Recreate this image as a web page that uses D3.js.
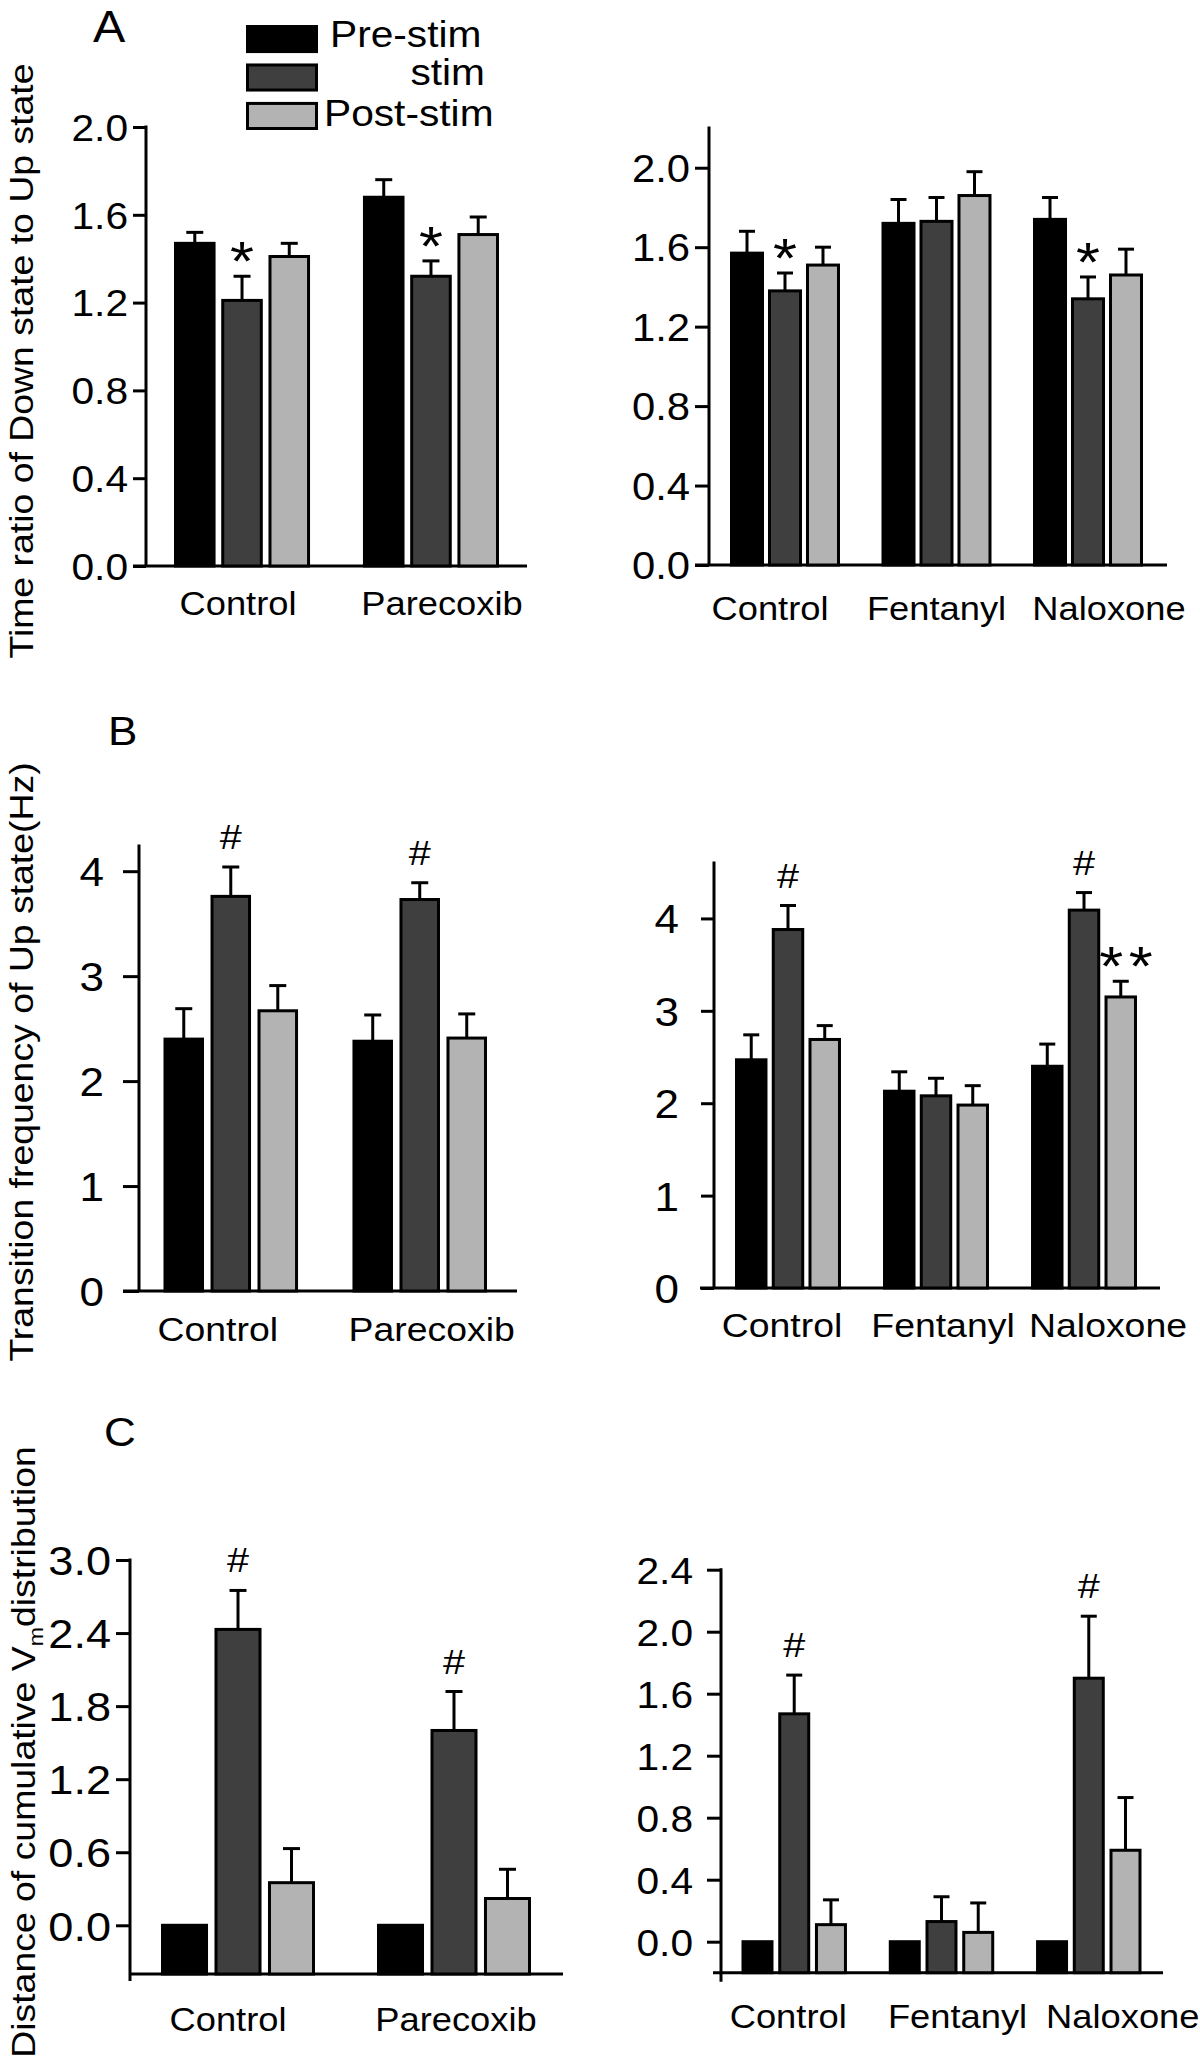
<!DOCTYPE html>
<html>
<head>
<meta charset="utf-8">
<script src="https://cdn.jsdelivr.net/npm/d3@7"></script>
<style>
  body { margin: 0; background: #fff; }
  svg { display: block; font-family: 'Liberation Sans', Arial, sans-serif; }
</style>
</head>
<body>
<div id="chart"></div>
<script>
// ---- data ----
const conditions = ['Pre-stim', 'stim', 'Post-stim']
const groupsPar = ['Control', 'Parecoxib']
const groupsOpi = ['Control', 'Fentanyl', 'Naloxone']

// A: time ratio of Down state to Up state
const ratioParMean = [[1.47, 1.21, 1.41], [1.68, 1.32, 1.51]]
const ratioParSem  = [[0.05, 0.11, 0.06], [0.08, 0.07, 0.08]]
const ratioOpiMean = [[1.57, 1.38, 1.51], [1.72, 1.73, 1.86], [1.74, 1.34, 1.46]]
const ratioOpiSem  = [[0.11, 0.09, 0.09], [0.12, 0.12, 0.12], [0.11, 0.11, 0.13]]
const ratioTicks = [0, 0.4, 0.8, 1.2, 1.6, 2.0]

// B: transition frequency of Up state (Hz)
const freqParMean = [[2.40, 3.76, 2.67], [2.38, 3.73, 2.41]]
const freqParSem  = [[0.29, 0.28, 0.24], [0.25, 0.16, 0.23]]
const freqOpiMean = [[2.47, 3.88, 2.69], [2.13, 2.08, 1.98], [2.40, 4.09, 3.15]]
const freqOpiSem  = [[0.27, 0.26, 0.15], [0.21, 0.19, 0.21], [0.24, 0.19, 0.17]]
const freqTicks = [0, 1, 2, 3, 4]

// C: distance of cumulative Vm distribution
const distParMean = [[0, 2.43, 0.35], [0, 1.60, 0.22]]
const distParSem  = [[0, 0.32, 0.28], [0, 0.32, 0.24]]
const distOpiMean = [[0, 1.47, 0.11], [0, 0.13, 0.06], [0, 1.70, 0.59]]
const distOpiSem  = [[0, 0.25, 0.16], [0, 0.16, 0.19], [0, 0.40, 0.34]]
const distParTicks = [0, 0.6, 1.2, 1.8, 2.4, 3.0]
const distOpiTicks = [0, 0.4, 0.8, 1.2, 1.6, 2.0, 2.4]

// significance marks: [group, condition, symbol]
const marksRatioPar = [['Control', 'stim', '*'], ['Parecoxib', 'stim', '*']]
const marksRatioOpi = [['Control', 'stim', '*'], ['Naloxone', 'stim', '*']]
const marksFreqPar = [['Control', 'stim', '#'], ['Parecoxib', 'stim', '#']]
const marksFreqOpi = [['Control', 'stim', '#'], ['Naloxone', 'stim', '#'], ['Naloxone', 'Post-stim', '**']]
const marksDistPar = [['Control', 'stim', '#'], ['Parecoxib', 'stim', '#']]
const marksDistOpi = [['Control', 'stim', '#'], ['Naloxone', 'stim', '#']]

// ---- style ----
const fills = { 'Pre-stim': '#000000', 'stim': '#3f3f3f', 'Post-stim': '#b3b3b3' }
const SX = 1.1   // the figure's type runs a bit wider than Arial
const LW = 3

const svg = d3.select('#chart').append('svg')
    .attr('width', 1200).attr('height', 2059)

function stretchedText(parent, x, y, txt, size, anchor) {
  return parent.append('text')
      .attr('transform', `translate(${x},${y}) scale(${SX},1)`)
      .attr('text-anchor', anchor || 'start')
      .attr('font-size', size)
      .attr('fill', '#000')
      .text(txt)
}

function drawPanel(p) {
  const g = svg.append('g')
  const y = d3.scaleLinear().domain(p.yDomain).range(p.yRange)
  const x0 = d3.scaleBand().domain(p.groups).range(p.bandRange)
      .paddingInner(p.padGroup).paddingOuter(0)
  const x1 = d3.scaleBand().domain(conditions).range([0, x0.bandwidth()])
      .paddingInner(p.padBar).paddingOuter(0)
  const base = y(p.yDomain[0])

  // y axis ticks + labels
  const yAxis = d3.axisLeft(y).tickValues(p.ticks).tickSize(p.tickLen)
      .tickSizeOuter(0).tickFormat(p.fmt)
  const ga = g.append('g')
      .attr('transform', `translate(${p.axisX},0)`)
      .call(yAxis)
      .attr('font-family', null).attr('font-size', null)
  ga.select('.domain').remove()
  ga.selectAll('.tick line').attr('stroke', '#000').attr('stroke-width', LW)
  ga.selectAll('.tick text')
      .attr('font-size', p.tickFont)
      .attr('fill', '#000')
      .attr('x', -p.labelOff / SX)
      .attr('dy', '0.36em')
      .attr('transform', `scale(${SX},1)`)

  // spines
  g.append('line')
      .attr('x1', p.axisX).attr('x2', p.axisX)
      .attr('y1', y(p.yDomain[1]) - LW / 2).attr('y2', base + (p.spineBelow || 0))
      .attr('stroke', '#000').attr('stroke-width', LW)
  g.append('line')
      .attr('x1', p.xAxisFrom).attr('x2', p.xAxisTo)
      .attr('y1', base).attr('y2', base)
      .attr('stroke', '#000').attr('stroke-width', LW)

  // bars
  const flat = p.groups.flatMap((grp, i) => conditions.map((c, j) => ({
    grp, c, v: p.mean[i][j], e: p.sem[i][j],
    cx: x0(grp) + x1(c) + x1.bandwidth() / 2
  })))

  g.append('g').selectAll('rect').data(flat).join('rect')
      .attr('x', d => x0(d.grp) + x1(d.c) + LW / 2)
      .attr('width', x1.bandwidth() - LW)
      .attr('y', d => y(d.v))
      .attr('height', d => base - y(d.v))
      .attr('fill', d => fills[d.c])
      .attr('stroke', '#000').attr('stroke-width', LW)

  // error bars (upper half only)
  const eb = g.append('g').selectAll('g').data(flat.filter(d => d.e > 0)).join('g')
      .attr('stroke', '#000').attr('stroke-width', LW)
  eb.append('line')
      .attr('x1', d => d.cx).attr('x2', d => d.cx)
      .attr('y1', d => y(d.v)).attr('y2', d => y(d.v + d.e))
  eb.append('line')
      .attr('x1', d => d.cx - p.cap / 2).attr('x2', d => d.cx + p.cap / 2)
      .attr('y1', d => y(d.v + d.e)).attr('y2', d => y(d.v + d.e))

  // significance marks
  p.marks.forEach(([grp, c, sym]) => {
    const d = flat.find(r => r.grp === grp && r.c === c)
    const top = y(d.v + d.e)
    if (sym === '#') {
      stretchedText(g, d.cx, top - 18, sym, 36, 'middle')
    } else {
      const t = stretchedText(g, d.cx + (sym.length > 1 ? 8 : 0), top + 4, sym, 56, 'middle')
      if (sym.length > 1) t.attr('letter-spacing', 5)
    }
  })

  // category labels
  p.groups.forEach((grp, i) => {
    stretchedText(g, x0(grp) + x0.bandwidth() / 2 + p.labelDx[i], p.labelY, grp, p.labelFont, 'middle')
  })
}

// ---- A ----
drawPanel({
  groups: groupsPar, mean: ratioParMean, sem: ratioParSem, marks: marksRatioPar,
  yDomain: [0, 2.0], yRange: [566, 127], ticks: ratioTicks, fmt: d3.format('.1f'),
  axisX: 146, tickLen: 13, labelOff: 18, tickFont: 37,
  xAxisFrom: 133, xAxisTo: 527,
  bandRange: [174, 499], padGroup: 0.28, padBar: 0.12, cap: 17,
  labelY: 615, labelDx: [-4, 11], labelFont: 33
})
drawPanel({
  groups: groupsOpi, mean: ratioOpiMean, sem: ratioOpiSem, marks: marksRatioOpi,
  yDomain: [0, 2.2], yRange: [565, 128], ticks: ratioTicks, fmt: d3.format('.1f'),
  axisX: 709, tickLen: 14, labelOff: 19, tickFont: 38,
  xAxisFrom: 695, xAxisTo: 1167,
  bandRange: [730, 1143], padGroup: 0.274, padBar: 0.105, cap: 16,
  labelY: 620, labelDx: [-15, 0, 21], labelFont: 33
})

// ---- B ----
drawPanel({
  groups: groupsPar, mean: freqParMean, sem: freqParSem, marks: marksFreqPar,
  yDomain: [0, 4.24], yRange: [1291, 846], ticks: freqTicks, fmt: d3.format('d'),
  axisX: 139, tickLen: 16, labelOff: 35, tickFont: 40,
  xAxisFrom: 123, xAxisTo: 517,
  bandRange: [163.5, 487], padGroup: 0.288, padBar: 0.138, cap: 17,
  labelY: 1341, labelDx: [-13, 12], labelFont: 34
})
drawPanel({
  groups: groupsOpi, mean: freqOpiMean, sem: freqOpiSem, marks: marksFreqOpi,
  yDomain: [0, 4.6], yRange: [1288, 863], ticks: freqTicks, fmt: d3.format('d'),
  axisX: 714, tickLen: 13, labelOff: 35, tickFont: 40,
  xAxisFrom: 700, xAxisTo: 1160,
  bandRange: [735, 1137], padGroup: 0.284, padBar: 0.116, cap: 16,
  labelY: 1337, labelDx: [-6, 7, 24], labelFont: 34
})

// ---- C ----
drawPanel({
  groups: groupsPar, mean: distParMean, sem: distParSem, marks: marksDistPar,
  yDomain: [-0.4, 3.0], yRange: [1974, 1560], ticks: distParTicks, fmt: d3.format('.1f'),
  axisX: 130, tickLen: 14, labelOff: 19, tickFont: 41, spineBelow: 7,
  xAxisFrom: 130, xAxisTo: 563,
  bandRange: [161, 531], padGroup: 0.287, padBar: 0.121, cap: 17,
  labelY: 2031, labelDx: [-10, 2], labelFont: 33
})
drawPanel({
  groups: groupsOpi, mean: distOpiMean, sem: distOpiSem, marks: marksDistOpi,
  yDomain: [-0.2, 2.4], yRange: [1972.7, 1569.7], ticks: distOpiTicks, fmt: d3.format('.1f'),
  axisX: 721, tickLen: 14, labelOff: 28, tickFont: 37, spineBelow: 9,
  xAxisFrom: 713, xAxisTo: 1163,
  bandRange: [741.5, 1141.5], padGroup: 0.284, padBar: 0.129, cap: 16,
  labelY: 2028, labelDx: [-6, 16, 34], labelFont: 33
})

// ---- legend ----
const legY = d3.scaleBand().domain(conditions).range([25, 130]).paddingInner(0.27)
const leg = svg.append('g')
leg.selectAll('rect').data(conditions).join('rect')
    .attr('x', 246 + LW / 2).attr('width', 72 - LW)
    .attr('y', d => legY(d) + LW / 2).attr('height', legY.bandwidth() - LW)
    .attr('fill', d => fills[d]).attr('stroke', '#000').attr('stroke-width', LW)
stretchedText(leg, 330, legY('Pre-stim') + legY.bandwidth() - 6, 'Pre-stim', 37)
stretchedText(leg, 485, legY('stim') + legY.bandwidth() - 7, 'stim', 37, 'end')
stretchedText(leg, 324, legY('Post-stim') + legY.bandwidth() - 4, 'Post-stim', 37)

// ---- panel letters ----
stretchedText(svg, 93, 42, 'A', 44)
stretchedText(svg, 108, 745, 'B', 40)
stretchedText(svg, 104, 1446, 'C', 40)

// ---- y titles (rotated, stretched along the reading direction) ----
function yTitle(x, yc) {
  return svg.append('text')
      .attr('transform', `translate(${x},${yc}) rotate(-90) scale(${SX},1)`)
      .attr('text-anchor', 'middle')
      .attr('font-size', 34)
      .attr('fill', '#000')
}
yTitle(33, 361).text('Time ratio of Down state to Up state')
yTitle(33, 1062).text('Transition frequency of Up state(Hz)')
const tC = yTitle(35, 1752)
tC.append('tspan').text('Distance of cumulative V')
tC.append('tspan').attr('font-size', 21).attr('dy', 8).text('m')
tC.append('tspan').attr('dy', -8).text('distribution')
</script>
</body>
</html>
